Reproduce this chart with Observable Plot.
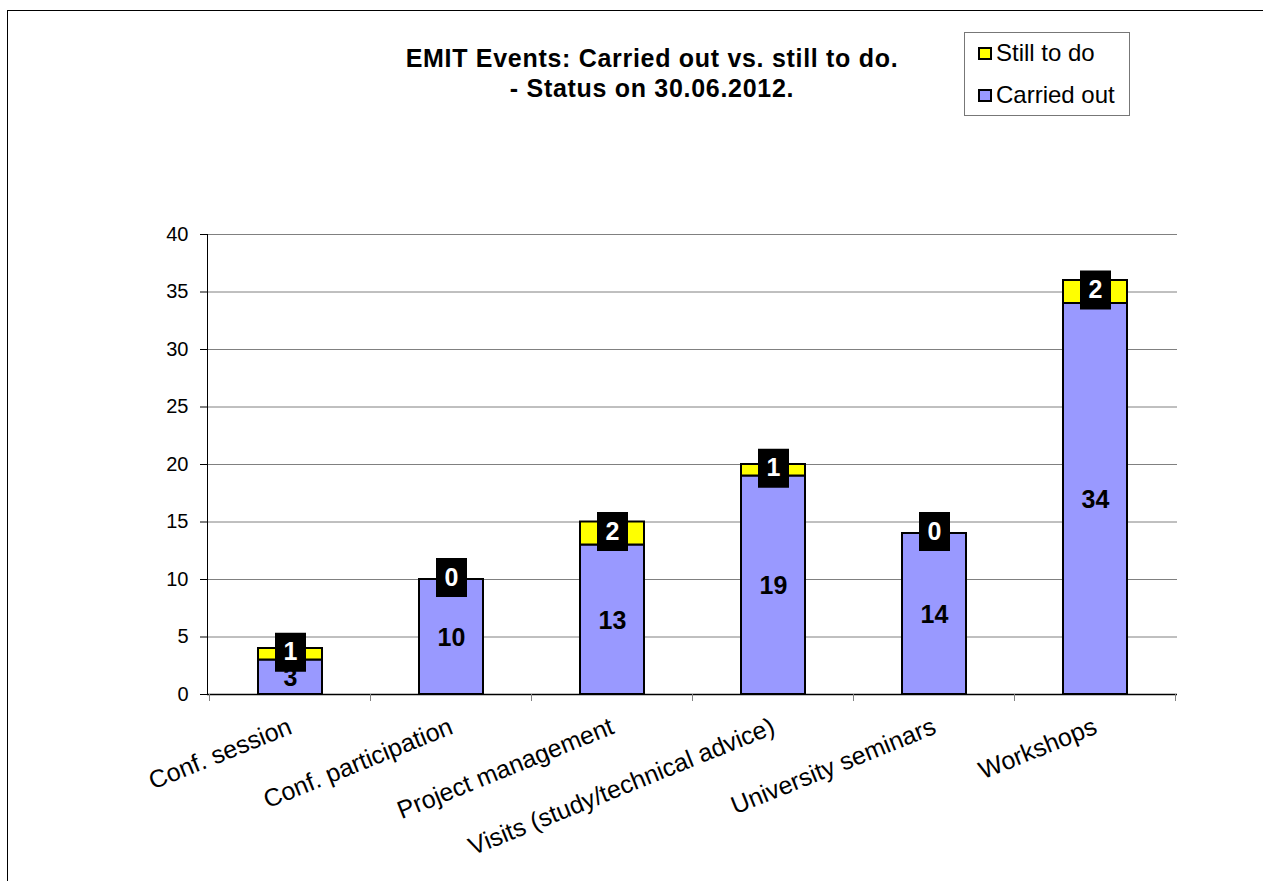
<!DOCTYPE html>
<html><head><meta charset="utf-8">
<script src="https://cdn.jsdelivr.net/npm/d3@7"></script>
<script src="https://cdn.jsdelivr.net/npm/@observablehq/plot@0.6"></script>
<style>
body{margin:0;background:#fff;font-family:"Liberation Sans",Arial,sans-serif;}
#frame{position:absolute;left:7px;top:10px;width:1400px;height:1000px;border-left:1px solid #000;border-top:1px solid #000;}
#title{position:absolute;left:302px;width:700px;top:43px;text-align:center;font-weight:bold;font-size:25px;letter-spacing:0.7px;line-height:30px;color:#000;}
#legend{position:absolute;left:964px;top:32px;width:164px;height:82px;border:1px solid #777;background:#fff;font-size:24px;}
.item{position:absolute;left:13px;display:flex;align-items:center;height:28px;}
.sw{width:10px;height:9px;border:2px solid #000;margin-right:4px;}
#chart{position:absolute;left:0;top:200px;}
</style></head>
<body>
<div id="frame"></div>
<div id="title">EMIT Events: Carried out vs. still to do.<br>- Status on 30.06.2012.</div>
<div id="legend"></div>
<div id="chart"></div>
<script>
const categories = ["Conf. session","Conf. participation","Project management","Visits (study/technical advice)","University seminars","Workshops"];
const carriedOut = [3,10,13,19,14,34];
const stillToDo = [1,0,2,1,0,2];
const seriesNames = ["Still to do","Carried out"];
const seriesColors = {"Carried out":"#9999FF","Still to do":"#FFFF00"};
const yTicks = [0,5,10,15,20,25,30,35,40];

const rows = [];
categories.forEach((c,i)=>{
  rows.push({cat:c, series:"Carried out", value:carriedOut[i], lo:0, hi:carriedOut[i]});
  rows.push({cat:c, series:"Still to do", value:stillToDo[i], lo:carriedOut[i], hi:carriedOut[i]+stillToDo[i]});
});
rows.forEach(r=>r.mid=(r.lo+r.hi)/2);
const carriedRows = rows.filter(r=>r.series==="Carried out");
const stillRows = rows.filter(r=>r.series==="Still to do");

const boxSymbol = {draw(ctx){ ctx.rect(-15.5,-19.5,31,39); }};

const plot = Plot.plot({
  width:1263, height:680,
  marginTop:34, marginBottom:186, marginLeft:207, marginRight:86,
  style:{fontFamily:"'Liberation Sans', Arial, sans-serif", background:"transparent", overflow:"visible"},
  x:{domain:categories, paddingInner:0.604, paddingOuter:0.302},
  y:{domain:[0,40]},
  marks:[
    Plot.gridY(yTicks.filter(t=>t>0), {stroke:"#808080", strokeOpacity:1, strokeWidth:1}),
    Plot.barY(rows, {x:"cat", y1:"lo", y2:"hi", fill:d=>seriesColors[d.series], stroke:"#000", strokeWidth:2}),
    Plot.axisY({ticks:yTicks, tickSize:7, tickPadding:12, fontSize:20, stroke:"#000", color:"#000", label:null, tickFormat:d=>String(d)}),
    Plot.frame({anchor:"left", stroke:"#000"}),
    Plot.ruleY([0], {stroke:"#000", strokeWidth:1.5}),
    Plot.axisX({tickRotate:-22, tickSize:0, tickPadding:31, fontSize:25, label:null}),
    Plot.text(carriedRows, {x:"cat", y:"mid", dy:1, text:d=>String(d.value), fontSize:25, fontWeight:"bold", fill:"#000"}),
    Plot.dot(stillRows, {x:"cat", y:"mid", dy:-2, symbol:boxSymbol, r:10, fill:"#000", stroke:null}),
    Plot.text(stillRows, {x:"cat", y:"mid", dy:-2, text:d=>String(d.value), fontSize:25, fontWeight:"bold", fill:"#fff"})
  ]
});
document.getElementById("chart").appendChild(plot);

// category boundary ticks from the band scale
const xs = plot.scale("x"), ys = plot.scale("y");
const y0 = ys.apply(0);
const bounds = categories.map(c=>xs.apply(c) - (xs.step - xs.bandwidth)/2);
bounds.push(xs.apply(categories[categories.length-1]) + xs.bandwidth + (xs.step - xs.bandwidth)/2);
const svg = d3.select(plot);
svg.append("g").selectAll("line").data(bounds).join("line")
  .attr("x1",d=>d).attr("x2",d=>d).attr("y1",y0).attr("y2",y0+7)
  .attr("stroke","#808080").attr("stroke-width",1);

// legend
const leg = d3.select("#legend");
seriesNames.forEach((s,i)=>{
  const it = leg.append("div").attr("class","item").style("top",(i===0?6:48)+"px");
  it.append("div").attr("class","sw").style("background",seriesColors[s]);
  it.append("span").text(s);
});
</script>
</body></html>
